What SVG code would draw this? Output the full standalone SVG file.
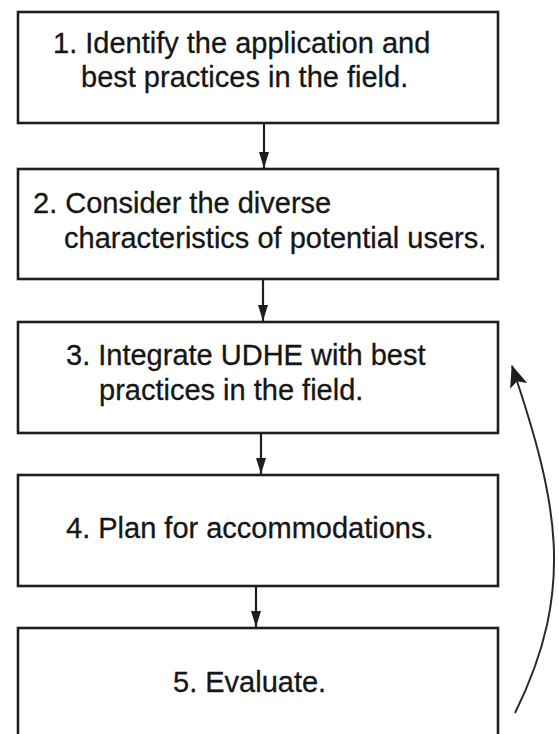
<svg xmlns="http://www.w3.org/2000/svg" width="559" height="734" viewBox="0 0 559 734">
  <style>
    .box { fill: #ffffff; stroke: #1e1e1e; stroke-width: 2.6; }
    .lbl { font-family: "Liberation Sans", Arial, Helvetica, sans-serif; font-size: 29px; fill: #161616; stroke: #161616; stroke-width: 0.3; }
    .conn { stroke: #1e1e1e; stroke-width: 2.2; fill: none; }
    .loop { stroke: #2a2a2a; stroke-width: 2; fill: none; }
  </style>
  <defs>
    <marker id="arr" viewBox="0 0 16 10" refX="16" refY="5" markerWidth="16" markerHeight="10" markerUnits="userSpaceOnUse" orient="auto">
      <path d="M0,0 L16,5 L0,10 Z" fill="#1e1e1e"/>
    </marker>
    <marker id="arrBig" viewBox="0 0 22 18" refX="21" refY="9" markerWidth="22" markerHeight="18" markerUnits="userSpaceOnUse" orient="auto">
      <path d="M0,0 L22,9 L0,18 L5,9 Z" fill="#1e1e1e"/>
    </marker>
  </defs>
  <rect width="559" height="734" fill="#ffffff"/>

  <g id="connectors">
    <line class="conn" x1="264" y1="123" x2="264" y2="168" marker-end="url(#arr)"/>
    <line class="conn" x1="263" y1="279" x2="263" y2="321" marker-end="url(#arr)"/>
    <line class="conn" x1="261" y1="433" x2="261" y2="474" marker-end="url(#arr)"/>
    <line class="conn" x1="256" y1="586" x2="256" y2="627" marker-end="url(#arr)"/>
    <path class="loop" d="M515,713 C577,588 557,500 512,366" marker-end="url(#arrBig)"/>
  </g>

  <g id="node1">
    <rect class="box" x="18" y="12" width="480" height="111"/>
    <text class="lbl" x="53" y="53">1. Identify the application and</text>
    <text class="lbl" x="81" y="87">best practices in the field.</text>
  </g>

  <g id="node2">
    <rect class="box" x="18" y="169" width="480" height="110"/>
    <text class="lbl" x="33" y="213">2. Consider the diverse</text>
    <text class="lbl" x="64" y="248">characteristics of potential users.</text>
  </g>

  <g id="node3">
    <rect class="box" x="18" y="322" width="480" height="111"/>
    <text class="lbl" x="66" y="365">3. Integrate UDHE with best</text>
    <text class="lbl" x="99" y="400">practices in the field.</text>
  </g>

  <g id="node4">
    <rect class="box" x="18" y="475" width="480" height="111"/>
    <text class="lbl" x="66" y="538">4. Plan for accommodations.</text>
  </g>

  <g id="node5">
    <rect class="box" x="18" y="628" width="480" height="140"/>
    <text class="lbl" x="173" y="692">5. Evaluate.</text>
  </g>
</svg>
